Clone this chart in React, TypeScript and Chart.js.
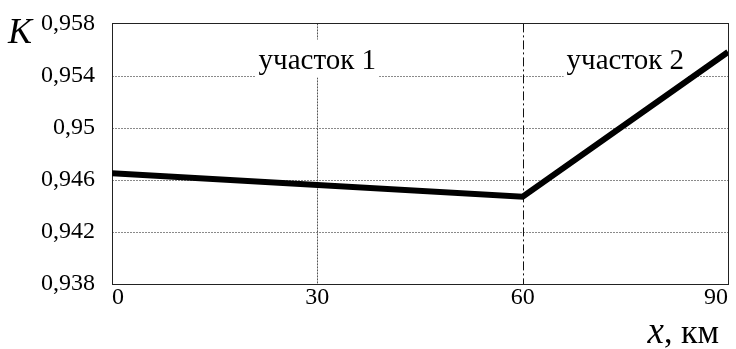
import React, { useEffect, useRef } from "react";
import { Chart, registerables } from "chart.js";

Chart.register(...registerables);

// ---- data ----
const xValues = [0, 60, 90];
const kValues = [0.9465, 0.9447, 0.9558];
const yTicks = [0.938, 0.942, 0.946, 0.95, 0.954, 0.958];
const xTicks = [0, 30, 60, 90];
const sectionLabels = ["участок 1", "участок 2"];
const sectionCenters = [30, 75];
const sectionLabelLevel = 0.954;
const boundaryX = 60;
const yTitle = "K";
const xTitleVar = "x";
const xTitleUnit = ", км";

const SERIF = '"Liberation Serif", "Times New Roman", serif';

const decorPlugin = {
  id: "decor",
  beforeDatasetsDraw(chart: any) {
    const { ctx, chartArea } = chart;
    const xs = chart.scales.x;
    const ys = chart.scales.y;
    const { left, right, top, bottom } = chartArea;
    ctx.save();
    ctx.strokeStyle = "#8a8a8a";
    ctx.lineWidth = 1;
    ctx.setLineDash([2, 1]);
    yTicks.forEach((v) => {
      if (v === yTicks[0] || v === yTicks[yTicks.length - 1]) return;
      const y = Math.round(ys.getPixelForValue(v)) + 0.5;
      ctx.beginPath();
      ctx.moveTo(left, y);
      ctx.lineTo(right, y);
      ctx.stroke();
    });
    xTicks.forEach((v) => {
      if (v === xTicks[0] || v === xTicks[xTicks.length - 1] || v === boundaryX) return;
      const x = Math.round(xs.getPixelForValue(v)) + 0.5;
      ctx.strokeStyle = "#555";
      ctx.beginPath();
      ctx.moveTo(x, top);
      ctx.lineTo(x, bottom);
      ctx.stroke();
    });
    ctx.strokeStyle = "#111";
    ctx.setLineDash([9, 3, 2, 3]);
    const bx = Math.round(xs.getPixelForValue(boundaryX)) + 0.5;
    ctx.beginPath();
    ctx.moveTo(bx, top);
    ctx.lineTo(bx, bottom);
    ctx.stroke();
    ctx.setLineDash([]);
    ctx.strokeStyle = "#222";
    ctx.lineWidth = 1;
    ctx.strokeRect(Math.round(left) + 0.5, Math.round(top) + 0.5, Math.round(right - left), Math.round(bottom - top));

    ctx.font = `29px ${SERIF}`;
    ctx.textAlign = "center";
    ctx.textBaseline = "alphabetic";
    const ly = ys.getPixelForValue(sectionLabelLevel);
    sectionLabels.forEach((t, i) => {
      const cx = xs.getPixelForValue(sectionCenters[i]);
      const w = ctx.measureText(t).width;
      ctx.fillStyle = "#fff";
      ctx.fillRect(cx - w / 2 - 3, ly - 36, w + 6, 38);
      ctx.fillStyle = "#000";
      ctx.fillText(t, cx, ly - 7);
    });
    ctx.restore();
  },
  afterDraw(chart: any) {
    const { ctx } = chart;
    ctx.save();
    ctx.fillStyle = "#000";
    ctx.textBaseline = "alphabetic";
    ctx.textAlign = "left";
    ctx.font = `italic 36px ${SERIF}`;
    ctx.fillText(yTitle, 8, 43);
    ctx.font = `italic 37px ${SERIF}`;
    const w1 = ctx.measureText(xTitleVar).width;
    ctx.font = `34px ${SERIF}`;
    const w2 = ctx.measureText(xTitleUnit).width;
    const startX = 719 - w1 - w2;
    ctx.font = `italic 37px ${SERIF}`;
    ctx.fillText(xTitleVar, startX, 343);
    ctx.font = `34px ${SERIF}`;
    ctx.fillText(xTitleUnit, startX + w1, 343);
    ctx.restore();
  },
};

export default function App() {
  const ref = useRef<HTMLCanvasElement>(null);
  useEffect(() => {
    document.body.style.margin = "0";
    const canvas = ref.current!;
    const chart = new Chart(canvas, {
      type: "line",
      data: {
        datasets: [
          {
            data: xValues.map((x, i) => ({ x, y: kValues[i] })),
            borderColor: "#000",
            borderWidth: 6,
            pointRadius: 0,
            tension: 0,
            fill: false,
          },
        ],
      },
      options: {
        animation: false,
        responsive: false,
        devicePixelRatio: 1,
        layout: { padding: { left: 0, right: 8, top: 17, bottom: 0 } },
        plugins: { legend: { display: false }, tooltip: { enabled: false } },
        scales: {
          x: {
            type: "linear",
            min: xTicks[0],
            max: xTicks[xTicks.length - 1],
            grid: { display: false },
            border: { display: false },
            afterBuildTicks: (s: any) => {
              s.ticks = xTicks.map((v) => ({ value: v }));
            },
            afterFit: (s: any) => {
              s.height = 65;
            },
            ticks: {
              align: "inner",
              padding: -9,
              color: "#000",
              font: { family: SERIF, size: 24 },
              maxRotation: 0,
              callback: (v: any) => String(v),
            },
          },
          y: {
            type: "linear",
            min: yTicks[0],
            max: yTicks[yTicks.length - 1],
            grid: { display: false },
            border: { display: false },
            afterBuildTicks: (s: any) => {
              s.ticks = yTicks.map((v) => ({ value: v }));
            },
            afterFit: (s: any) => {
              s.width = 112;
            },
            ticks: {
              padding: 9,
              color: "#000",
              font: { family: SERIF, size: 24 },
              callback: (v: any) => String(Number(v).toFixed(3)).replace(/0+$/, "").replace(".", ","),
            },
          },
        },
      },
      plugins: [decorPlugin],
    } as any);
    return () => chart.destroy();
  }, []);
  return (
    <div style={{ position: "absolute", left: 0, top: 0, width: 736, height: 349, background: "#fff" }}>
      <canvas ref={ref} width={736} height={349} style={{ display: "block", width: 736, height: 349 }} />
    </div>
  );
}
